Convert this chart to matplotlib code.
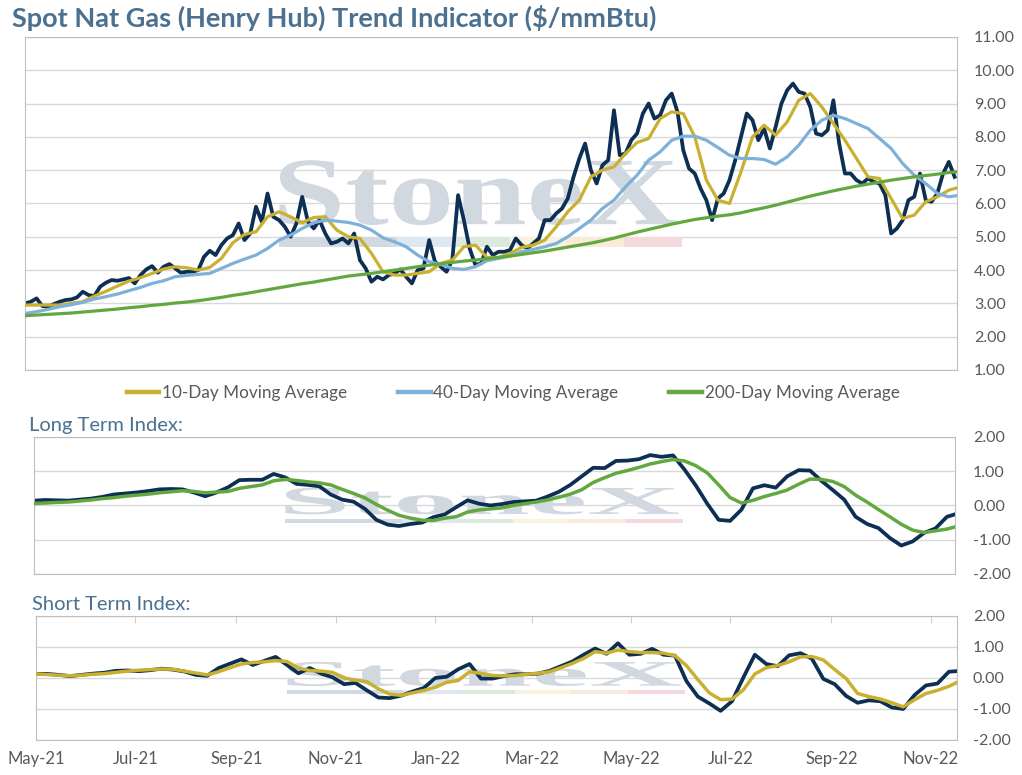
import pandas as pd
import matplotlib
matplotlib.use('Agg')
import matplotlib.pyplot as plt
import matplotlib.dates as mdates
from matplotlib.textpath import TextPath
from matplotlib.patches import PathPatch, Rectangle
from matplotlib.font_manager import FontProperties
from matplotlib.transforms import Affine2D

plt.rcParams['font.family'] = ['Lato', 'DejaVu Sans']

# spot price ($/mmBtu)
spot = [3.00, 3.05, 3.15, 2.92, 2.90, 2.98, 3.05, 3.10, 3.12, 3.18,
        3.35, 3.25, 3.22, 3.50, 3.62, 3.70, 3.68, 3.72, 3.76, 3.60,
        3.85, 4.02, 4.12, 3.92, 4.10, 4.18, 4.05, 3.92, 3.95, 3.95,
        4.00, 4.40, 4.58, 4.45, 4.75, 4.95, 5.05, 5.40, 4.90, 5.10,
        5.90, 5.45, 6.30, 5.60, 5.50, 5.30, 5.00, 5.40, 6.20, 5.45,
        5.25, 5.50, 5.10, 4.80, 4.85, 4.95, 4.80, 5.10,
        4.30, 4.05, 3.65, 3.80, 3.72, 3.85, 3.90, 4.02, 3.80, 3.60,
        4.00, 4.05, 4.90, 4.25, 4.10, 3.95, 4.30, 6.25, 5.50, 4.65,
        4.15, 4.20, 4.70, 4.45, 4.55, 4.55, 4.60, 4.95, 4.75, 4.65,
        4.80, 4.95, 5.50, 5.50, 5.70, 5.85, 6.15, 6.80, 7.35, 7.80,
        7.00, 6.60, 7.15, 7.30, 8.80, 7.45, 7.50, 7.90, 8.10, 8.70,
        9.00, 8.55,
        8.65, 9.10, 9.30, 8.75, 7.60, 7.05, 6.90, 6.45, 6.10, 5.50,
        6.15, 6.30, 6.70, 7.30, 8.00, 8.70, 8.50, 7.90, 8.25, 7.65,
        8.30, 9.00, 9.40, 9.60, 9.35, 9.30, 8.90, 8.10, 8.05, 8.20,
        9.10, 7.80, 6.90, 6.90, 6.70, 6.60, 6.75, 6.65, 6.60, 6.25,
        5.10, 5.25, 5.50, 6.10, 6.20, 6.90, 6.10, 6.05, 6.30, 6.90,
        7.25, 6.80]

# moving averages, read weekly
ma10 = [2.95, 2.95, 2.95, 2.95, 3.00, 3.05, 3.22, 3.36, 3.52, 3.67,
        3.77, 3.90, 4.03, 4.10, 4.07, 4.00, 4.08, 4.35, 4.82, 5.07,
        5.15, 5.60, 5.75, 5.60, 5.42, 5.58, 5.60, 5.20, 5.00, 4.95,
        4.50, 3.95, 3.85, 3.85, 3.90, 3.95, 4.20, 4.30, 4.70, 4.75,
        4.38, 4.38, 4.50, 4.68, 4.75, 4.90, 5.30, 5.75, 6.10, 6.80,
        7.00, 7.10, 7.50, 7.83, 7.95, 8.55, 8.75, 8.70, 8.00, 6.70,
        6.10, 6.00, 6.95, 8.00, 8.35, 8.05, 8.45, 9.10, 9.30, 8.90,
        8.40, 7.90, 7.35, 6.80, 6.75, 6.15, 5.55, 5.65, 6.05, 6.20,
        6.40, 6.50]

ma40 = [2.70, 2.75, 2.82, 2.90, 2.96, 3.03, 3.13, 3.20, 3.28, 3.38,
        3.48, 3.60, 3.68, 3.80, 3.84, 3.87, 3.90, 4.05, 4.20, 4.33,
        4.45, 4.65, 4.90, 5.05, 5.25, 5.42, 5.50, 5.47, 5.43, 5.35,
        5.20, 4.97, 4.85, 4.70, 4.45, 4.25, 4.17, 4.05, 4.02, 4.10,
        4.28, 4.35, 4.42, 4.55, 4.62, 4.70, 4.80, 5.00, 5.25, 5.50,
        5.85, 6.10, 6.50, 6.85, 7.30, 7.55, 7.90, 8.02, 8.02, 7.90,
        7.68, 7.45, 7.35, 7.35, 7.32, 7.18, 7.40, 7.75, 8.20, 8.50,
        8.65, 8.55, 8.40, 8.25, 7.95, 7.65, 7.20, 6.85, 6.60, 6.30,
        6.20, 6.25]

ma200 = [2.63, 2.65, 2.67, 2.69, 2.71, 2.74, 2.77, 2.80, 2.83, 2.87,
         2.90, 2.94, 2.97, 3.01, 3.04, 3.08, 3.13, 3.18, 3.24, 3.29,
         3.35, 3.41, 3.47, 3.53, 3.59, 3.64, 3.70, 3.76, 3.82, 3.86,
         3.90, 3.95, 4.00, 4.05, 4.10, 4.15, 4.19, 4.23, 4.27, 4.30,
         4.34, 4.38, 4.42, 4.47, 4.52, 4.57, 4.63, 4.69, 4.75, 4.81,
         4.88, 4.96, 5.05, 5.14, 5.22, 5.30, 5.38, 5.45, 5.52, 5.57,
         5.62, 5.66, 5.72, 5.80, 5.87, 5.95, 6.04, 6.13, 6.22, 6.30,
         6.38, 6.45, 6.52, 6.58, 6.64, 6.70, 6.75, 6.80, 6.84, 6.88,
         6.93, 6.96]

# long term index and its signal line
lt_index = [0.14, 0.16, 0.15, 0.14, 0.17, 0.20, 0.25, 0.32, 0.35, 0.38,
            0.42, 0.47, 0.48, 0.47, 0.38, 0.27, 0.38, 0.53, 0.74, 0.75,
            0.75, 0.92, 0.82, 0.63, 0.60, 0.56, 0.32, 0.17, 0.11, -0.10,
            -0.42, -0.56, -0.60, -0.54, -0.50, -0.34, -0.26, -0.05, 0.15, 0.05,
            0.00, 0.04, 0.10, 0.12, 0.14, 0.26, 0.40, 0.60, 0.85, 1.10,
            1.09, 1.30, 1.31, 1.35, 1.47, 1.42, 1.46, 1.05, 0.58, 0.05,
            -0.42, -0.45, -0.12, 0.50, 0.59, 0.52, 0.85, 1.03, 1.02, 0.72,
            0.45, 0.17, -0.33, -0.54, -0.66, -0.95, -1.17, -1.05, -0.80, -0.67,
            -0.33, -0.23]

lt_signal = [0.06, 0.07, 0.09, 0.10, 0.13, 0.16, 0.20, 0.23, 0.27, 0.30,
             0.33, 0.37, 0.40, 0.43, 0.41, 0.37, 0.39, 0.41, 0.50, 0.55,
             0.60, 0.72, 0.76, 0.73, 0.69, 0.66, 0.60, 0.47, 0.35, 0.22,
             0.03, -0.14, -0.29, -0.37, -0.43, -0.44, -0.37, -0.33, -0.19, -0.13,
             -0.10, -0.07, 0.00, 0.05, 0.10, 0.16, 0.24, 0.33, 0.46, 0.67,
             0.81, 0.94, 1.02, 1.11, 1.21, 1.28, 1.34, 1.30, 1.16, 0.95,
             0.60, 0.23, 0.07, 0.15, 0.26, 0.35, 0.45, 0.62, 0.77, 0.76,
             0.70, 0.55, 0.30, 0.10, -0.12, -0.33, -0.55, -0.72, -0.79, -0.74,
             -0.69, -0.60]

# short term index and its signal line
st_index = [0.13, 0.13, 0.10, 0.06, 0.10, 0.14, 0.17, 0.23, 0.24, 0.22,
            0.25, 0.30, 0.27, 0.21, 0.10, 0.07, 0.32, 0.46, 0.60, 0.42,
            0.55, 0.68, 0.42, 0.15, 0.32, 0.14, 0.02, -0.20, -0.16, -0.40,
            -0.63, -0.65, -0.57, -0.44, -0.32, 0.00, 0.04, 0.28, 0.45, -0.02,
            -0.02, 0.06, 0.12, 0.12, 0.14, 0.23, 0.38, 0.53, 0.75, 0.95,
            0.78, 1.12, 0.75, 0.78, 0.94, 0.75, 0.72, -0.10, -0.60, -0.82,
            -1.06, -0.75, 0.02, 0.75, 0.45, 0.38, 0.73, 0.80, 0.62, -0.03,
            -0.20, -0.58, -0.80, -0.72, -0.75, -0.95, -1.00, -0.55, -0.24, -0.18,
            0.20, 0.23]

st_signal = [0.13, 0.11, 0.09, 0.07, 0.09, 0.12, 0.14, 0.18, 0.22, 0.25,
             0.27, 0.29, 0.28, 0.22, 0.16, 0.10, 0.20, 0.33, 0.45, 0.50,
             0.52, 0.56, 0.53, 0.32, 0.24, 0.22, 0.18, 0.00, -0.07, -0.12,
             -0.35, -0.52, -0.56, -0.48, -0.40, -0.30, -0.14, -0.08, 0.20, 0.15,
             0.08, 0.07, 0.08, 0.12, 0.15, 0.20, 0.33, 0.47, 0.63, 0.85,
             0.80, 0.90, 0.85, 0.82, 0.82, 0.80, 0.72, 0.40, -0.05, -0.48,
             -0.70, -0.68, -0.38, 0.13, 0.33, 0.40, 0.52, 0.68, 0.69, 0.58,
             0.27, -0.02, -0.50, -0.60, -0.68, -0.80, -0.93, -0.70, -0.50, -0.40,
             -0.27, -0.09]

spot_dates = pd.date_range('2021-05-01', periods=len(spot), freq='84h')
week_dates = pd.date_range('2021-05-01', periods=len(ma10), freq='7D')
x_start, x_end = pd.Timestamp('2021-05-01'), pd.Timestamp('2022-11-17')

NAVY = '#0c2f53'
GOLD = '#c9b02f'
BLUE = '#7eb1d9'
GREEN = '#63a83f'
TITLE = '#4b7090'
TEXT = '#595959'
GRID = '#d9d9d9'


def add_watermark(ax):
    # faded StoneX logo behind each panel
    tp = TextPath((0, 0), 'StoneX', size=1,
                  prop=FontProperties(family='Liberation Serif', weight='bold'))
    ext = tp.get_extents()
    x0, x1, y0, y1 = 0.273, 0.70, 0.435, 0.63
    tr = (Affine2D().translate(-ext.x0, -ext.y0)
          .scale((x1 - x0) / ext.width, (y1 - y0) / ext.height)
          .translate(x0, y0))
    ax.add_patch(PathPatch(tr.transform_path(tp), transform=ax.transAxes,
                           fc='#d2d8e0', ec='none', zorder=0.6))
    bars = [(0.273, 0.399, '#d3d9e1'), (0.399, 0.463, '#dde8f1'),
            (0.463, 0.520, '#dce9dd'), (0.520, 0.580, '#f7f3dc'),
            (0.580, 0.643, '#f9eada'), (0.643, 0.705, '#f4d8db')]
    for a, b, c in bars:
        ax.add_patch(Rectangle((a, 0.37), b - a, 0.03, transform=ax.transAxes,
                               fc=c, ec='none', zorder=0.6))


def style_axes(ax, ylim, yticks, pad):
    ax.set_xlim(x_start, x_end)
    ax.set_ylim(*ylim)
    ax.set_yticks(yticks)
    ax.yaxis.tick_right()
    ax.yaxis.set_major_formatter(plt.FormatStrFormatter('%.2f'))
    ax.tick_params(axis='y', length=0, pad=pad, labelsize=11.5, labelcolor=TEXT)
    ax.grid(axis='y', color=GRID, linewidth=1)
    ax.set_axisbelow(True)
    for s in ax.spines.values():
        s.set_color('#bfbfbf')
    add_watermark(ax)


fig = plt.figure(figsize=(10.22, 7.75), dpi=100)
ax1 = fig.add_axes([0.0245, 0.5226, 0.912, 0.4297])
ax2 = fig.add_axes([0.0333, 0.2594, 0.9012, 0.1768])
ax3 = fig.add_axes([0.0352, 0.0452, 0.9012, 0.16])

# top panel: spot price and moving averages
ax1.plot(spot_dates, spot, color=NAVY, lw=2.7, zorder=2)
l10, = ax1.plot(week_dates, ma10, color=GOLD, lw=2.3, zorder=3)
l40, = ax1.plot(week_dates, ma40, color=BLUE, lw=2.3, zorder=3)
l200, = ax1.plot(week_dates, ma200, color=GREEN, lw=2.3, zorder=4)
style_axes(ax1, (1, 11), range(1, 12), 12)
ax1.set_xticks([])

fig.text(0.012, 0.977, 'Spot Nat Gas (Henry Hub) Trend Indicator ($/mmBtu)',
         fontsize=19.5, fontweight='bold', color=TITLE, va='center')

leg = fig.legend([l10, l40, l200],
                 ['10-Day Moving Average', '40-Day Moving Average', '200-Day Moving Average'],
                 loc='center', bbox_to_anchor=(0.502, 0.4929), ncol=3, frameon=False,
                 fontsize=12.3, handlelength=1.9, handletextpad=0.15, columnspacing=3.0,
                 labelcolor=TEXT)
for h in leg.legend_handles:
    h.set_linewidth(3.2)

# long term index
ax2.plot(week_dates, lt_index, color=NAVY, lw=2.7, zorder=2)
ax2.plot(week_dates, lt_signal, color=GREEN, lw=2.5, zorder=3)
style_axes(ax2, (-2, 2), [-2, -1, 0, 1, 2], 13)
ax2.set_xticks([])
fig.text(0.028, 0.4516, 'Long Term Index:', fontsize=14.5, color=TITLE, va='center')

# short term index
ax3.plot(week_dates, st_index, color=NAVY, lw=2.7, zorder=2)
ax3.plot(week_dates, st_signal, color=GOLD, lw=2.5, zorder=3)
style_axes(ax3, (-2, 2), [-2, -1, 0, 1, 2], 11.5)
fig.text(0.031, 0.2194, 'Short Term Index:', fontsize=14.5, color=TITLE, va='center')

ax3.xaxis.set_major_locator(mdates.MonthLocator(bymonth=[1, 3, 5, 7, 9, 11]))
ax3.xaxis.set_major_formatter(mdates.DateFormatter('%b-%y'))
ax3.tick_params(axis='x', bottom=False, top=True, direction='in', length=5,
                color='#d0d0d0', labelsize=12, labelcolor=TEXT, pad=8)

fig.savefig('out.png', dpi=100)
